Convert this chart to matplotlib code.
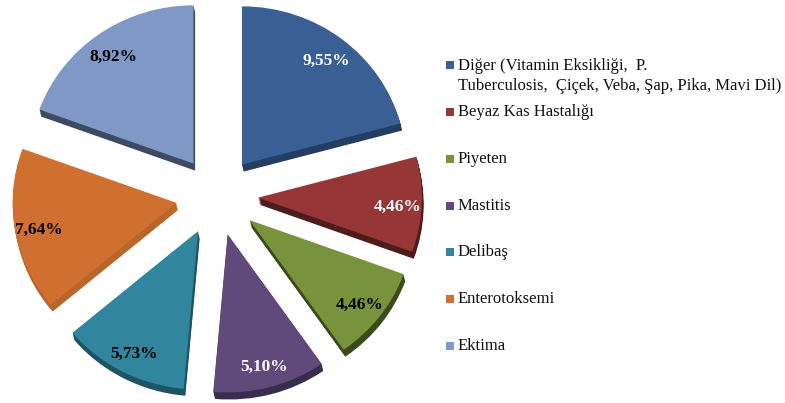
import matplotlib
matplotlib.use("Agg")
import matplotlib.pyplot as plt
from matplotlib.patches import Rectangle
import numpy as np

categories = [
    "Diğer (Vitamin Eksikliği,  P.\nTuberculosis,  Çiçek, Veba, Şap, Pika, Mavi Dil)",
    "Beyaz Kas Hastalığı",
    "Piyeten",
    "Mastitis",
    "Delibaş",
    "Enterotoksemi",
    "Ektima",
]
values = [9.55, 4.46, 4.46, 5.10, 5.73, 7.64, 8.92]
value_labels = ["9,55%", "4,46%", "4,46%", "5,10%", "5,73%", "7,64%", "8,92%"]
colors = ["#3A5F95", "#963636", "#77933C", "#604A7B", "#31859C", "#D07030", "#7F98C6"]
side_colors = ["#243D62", "#4E1C1C", "#3B4A1C", "#3A2C4C", "#1E5563", "#B8662C", "#3E4A62"]
label_colors = ["white", "white", "black", "white", "black", "black", "black"]

W, H = 785, 403
fig = plt.figure(figsize=(W / 100, H / 100), dpi=100)

R = 164.0
squash = 0.965
cx, cy = 217.0, H - 196.0
lim = 1.4
size = 2 * lim * R
ax = fig.add_axes([(cx - size / 2) / W, (cy - size / 2) / H, size / W, size / H])

explode = [0.25] * len(values)
depth = 7.0 / R / squash

# side (extrusion) layers
for k in range(0, 7):
    f = 1 - k / 7
    ax.pie(values, colors=side_colors, startangle=90, counterclock=False,
           explode=explode, radius=1.0, center=(0.01 * f, -depth * f),
           wedgeprops=dict(linewidth=0))

# top layer
wedges, texts = ax.pie(values, colors=colors, startangle=90, counterclock=False,
                       explode=explode, radius=1.0, center=(0, 0),
                       labels=value_labels, labeldistance=0.85,
                       wedgeprops=dict(linewidth=0))
for t, c in zip(texts, label_colors):
    t.set_color(c)
    t.set_fontfamily("Liberation Serif")
    t.set_fontweight("bold")
    t.set_fontsize(12.5)
    t.set_ha("center")
    t.set_va("center")
    x, y = t.get_position()
    t.set_position((x, y - 0.02))

ax.set_xlim(-lim, lim)
ax.set_ylim(-lim / squash, lim / squash)
ax.set_aspect("auto")
ax.axis("off")

# legend
legend_y = [65, 112, 159, 206, 252, 299, 346]
for cat, col, y in zip(categories, colors, legend_y):
    fig.patches.append(Rectangle((446 / W, (H - y - 4) / H), 8 / W, 8 / H,
                                 transform=fig.transFigure, facecolor=col,
                                 edgecolor="none"))
    if "\n" in cat:
        fig.text(458 / W, (H - y + 7) / H, cat, fontsize=12, family="Liberation Serif",
                 ha="left", va="top", linespacing=1.35, color="#111111")
    else:
        fig.text(458 / W, (H - y) / H, cat, fontsize=12, family="Liberation Serif",
                 ha="left", va="center", color="#111111")

fig.savefig("out.png", dpi=100)
